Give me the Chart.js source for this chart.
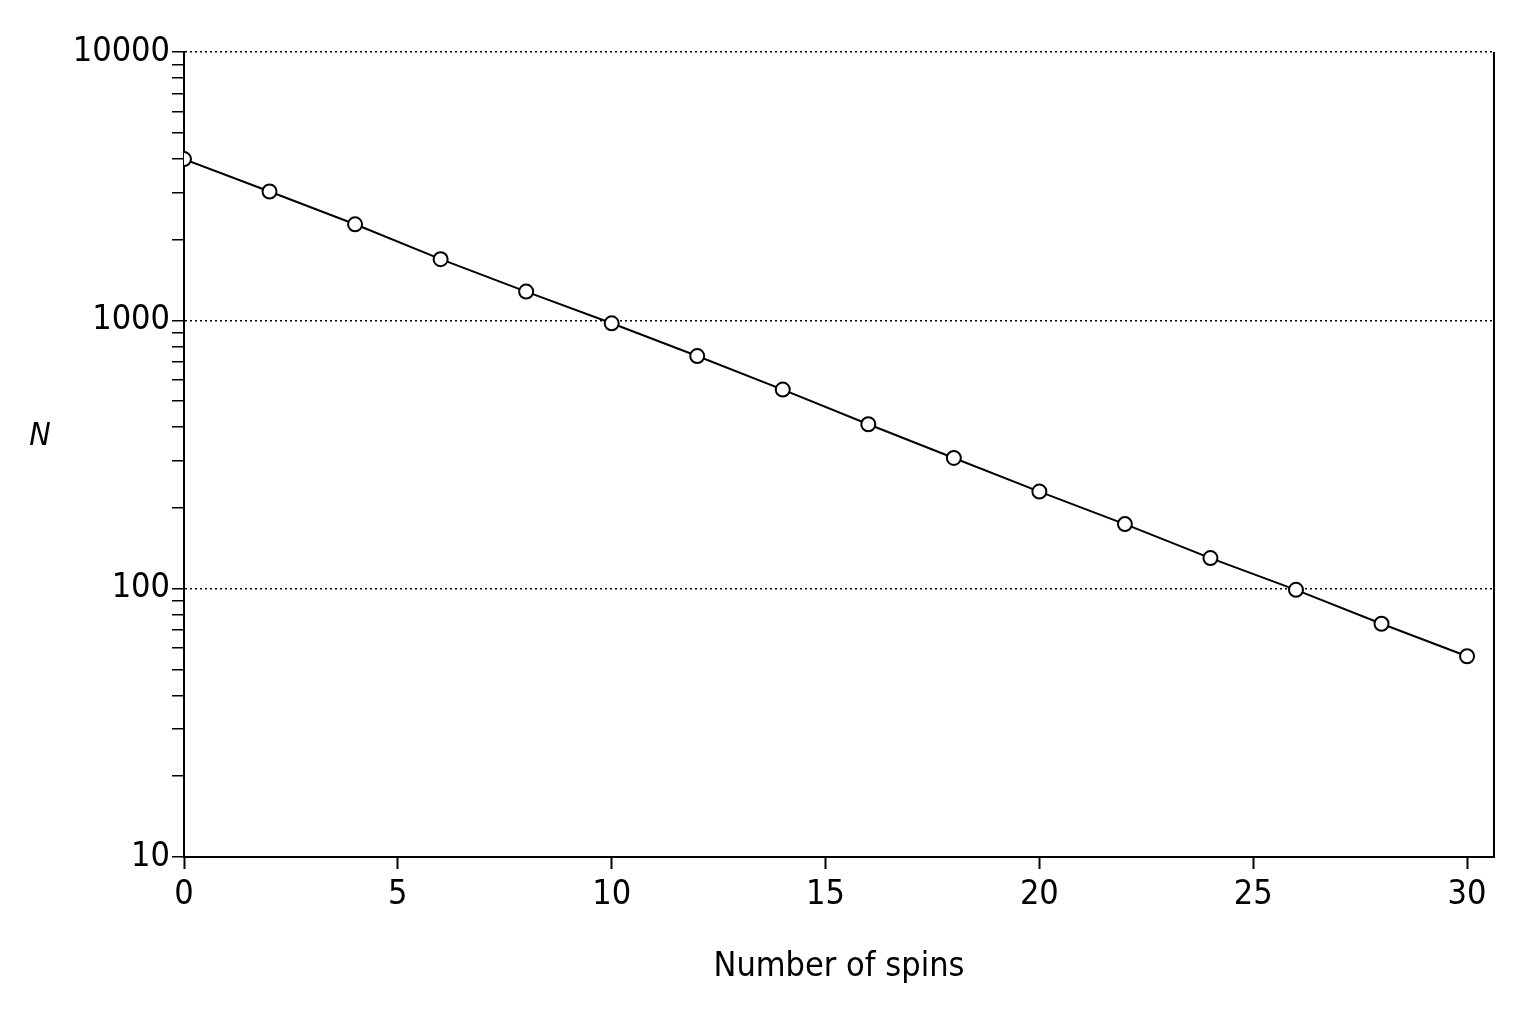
<!DOCTYPE html>
<html>
<head>
<meta charset="utf-8">
<script src="https://cdn.jsdelivr.net/npm/chart.js@4/dist/chart.umd.min.js"></script>
<style>
  html, body { margin: 0; padding: 0; background: #fff; }
  #wrap { width: 1536px; height: 1024px; }
</style>
</head>
<body>
<div id="wrap"><canvas id="myChart"></canvas></div>
<script>
// Data
const spins = [0, 2, 4, 6, 8, 10, 12, 14, 16, 18, 20, 22, 24, 26, 28, 30];
const counts = [3990, 3020, 2280, 1690, 1280, 975, 736, 552, 410, 307, 230, 174, 130, 99, 74, 56];
const yMajorTicks = [10, 100, 1000, 10000];

const FONT = '"DejaVu Sans Condensed", "Liberation Sans Narrow", sans-serif';

// right border + italic N label
const framePlugin = {
  id: 'frame',
  afterDraw(chart) {
    const { ctx, chartArea } = chart;
    ctx.save();
    ctx.strokeStyle = '#000';
    ctx.lineWidth = 2;
    ctx.setLineDash([]);
    ctx.beginPath();
    ctx.moveTo(chartArea.right, chartArea.top);
    ctx.lineTo(chartArea.right, chartArea.bottom);
    ctx.stroke();
    ctx.fillStyle = '#000';
    ctx.font = 'italic 32px ' + FONT;
    ctx.textAlign = 'center';
    ctx.textBaseline = 'middle';
    ctx.fillText('N', 40, 437);
    ctx.restore();
  }
};

const isMajor = (v) => yMajorTicks.includes(Math.round(v));

new Chart(document.getElementById('myChart'), {
  type: 'line',
  data: {
    datasets: [{
      data: spins.map((s, i) => ({ x: s, y: counts[i] })),
      borderColor: '#000',
      borderWidth: 2,
      pointRadius: 7,
      pointBackgroundColor: '#fff',
      pointBorderColor: '#000',
      pointBorderWidth: 2,
      tension: 0
    }]
  },
  options: {
    responsive: true,
    maintainAspectRatio: false,
    animation: false,
    layout: { padding: { top: 52, right: 42, left: 0, bottom: 36 } },
    plugins: { legend: { display: false }, tooltip: { enabled: false } },
    scales: {
      x: {
        type: 'linear',
        min: 0,
        max: 30.63,
        afterFit: (s) => { s.height = 131; },
        afterBuildTicks: (s) => { s.ticks = [0, 5, 10, 15, 20, 25, 30].map(v => ({ value: v })); },
        grid: { drawOnChartArea: false, tickLength: 12, tickColor: '#000', tickWidth: 2 },
        border: { color: '#000', width: 2 },
        ticks: { color: '#000', font: { family: FONT, size: 34 }, padding: 6, maxRotation: 0 },
        title: { display: true, text: 'Number of spins', color: '#000', font: { family: FONT, size: 34 }, padding: { top: 0, bottom: 0 } }
      },
      y: {
        type: 'logarithmic',
        min: 10,
        max: 10000,
        afterFit: (s) => { s.width = 184; },
        afterBuildTicks: (s) => {
          const t = [];
          for (let d = 10; d <= 1000; d *= 10) for (let k = 1; k < 10; k++) t.push({ value: d * k });
          t.push({ value: 10000 });
          s.ticks = t;
        },
        grid: {
          color: (c) => (c.tick && isMajor(c.tick.value) && c.tick.value !== 10) ? '#000' : 'rgba(0,0,0,0)',
          lineWidth: 1.5,
          tickColor: '#000',
          tickWidth: 1.5,
          tickLength: 12,
          tickBorderDash: []
        },
        border: { color: '#000', width: 2, dash: [2, 3] },
        ticks: {
          color: '#000',
          font: { family: FONT, size: 34 },
          padding: 2,
          autoSkip: false,
          callback: (v) => isMajor(v) ? String(Math.round(v)) : ''
        }
      }
    }
  },
  plugins: [framePlugin]
});
</script>
</body>
</html>
